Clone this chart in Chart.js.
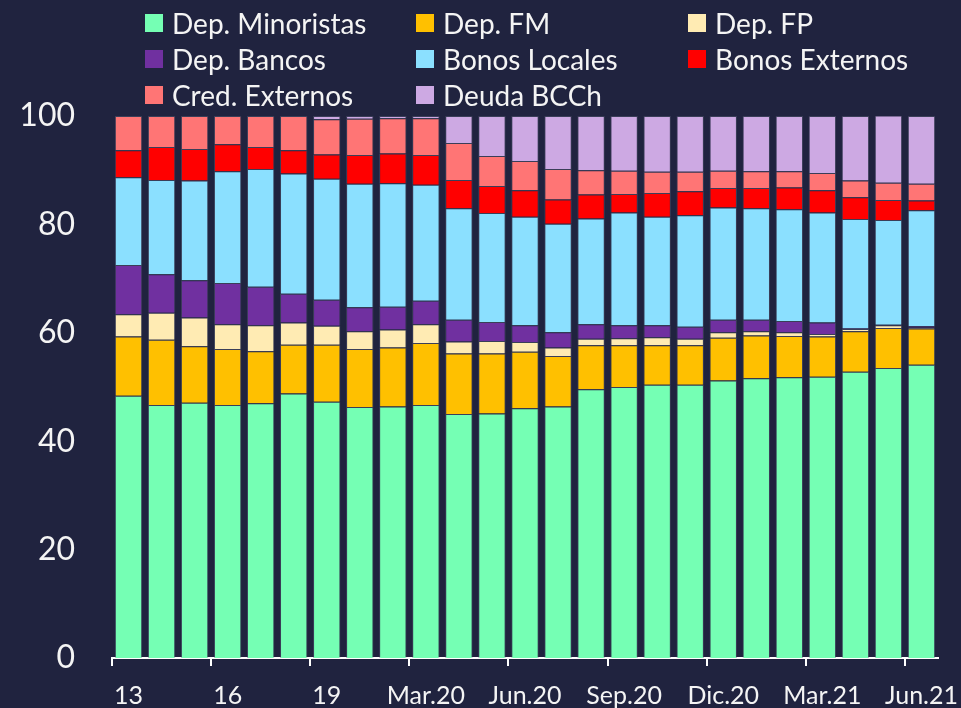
<!DOCTYPE html>
<html>
<head>
<meta charset="utf-8">
<script src="https://cdn.jsdelivr.net/npm/chart.js@4"></script>
<style>
  html, body { margin: 0; padding: 0; background: #20233f; overflow: hidden; }
  #wrap { position: relative; width: 961px; height: 708px; }
  #myChart { display: block; }
  #legend { position: absolute; left: 0; top: 0; width: 961px; height: 112px; }
  .item { position: absolute; display: flex; align-items: center; font-family: Lato, sans-serif;
          font-size: 28px; color: #f4f4f4; white-space: nowrap; height: 30px; }
  .box { width: 18px; height: 18px; margin-right: 9px; }
</style>
</head>
<body>
<div id="wrap">
  <canvas id="myChart" width="961" height="708"></canvas>
  <div id="legend"></div>
</div>
<script>
'use strict'

// Categories: years 2013-2019, then monthly from Jan.20 to Jun.21
const periods = ['13', '14', '15', '16', '17', '18', '19',
  'Ene.20', 'Feb.20', 'Mar.20', 'Abr.20', 'May.20', 'Jun.20', 'Jul.20', 'Ago.20', 'Sep.20',
  'Oct.20', 'Nov.20', 'Dic.20', 'Ene.21', 'Feb.21', 'Mar.21', 'Abr.21', 'May.21', 'Jun.21'];

const yTicks = [0, 20, 40, 60, 80, 100];

// Series values (% of funding)
const depMinoristas = [48.4, 46.7, 47.1, 46.7, 47.0, 48.8, 47.3, 46.3, 46.4, 46.7, 45.0, 45.1, 46.1,
  46.4, 49.6, 50.0, 50.4, 50.4, 51.2, 51.6, 51.8, 51.9, 52.8, 53.5, 54.1];
const depFM = [10.9, 12.0, 10.4, 10.3, 9.6, 9.0, 10.5, 10.7, 10.9, 11.4, 11.2, 11.1, 10.4,
  9.3, 8.1, 7.7, 7.3, 7.3, 7.9, 7.9, 7.6, 7.4, 7.5, 7.4, 6.7];
const depFP = [4.1, 5.0, 5.3, 4.6, 4.8, 4.1, 3.5, 3.3, 3.3, 3.5, 2.2, 2.3, 1.8,
  1.6, 1.2, 1.3, 1.5, 1.2, 1.0, 0.8, 0.7, 0.5, 0.4, 0.5, 0.2];
const depBancos = [9.1, 7.1, 6.9, 7.6, 7.1, 5.3, 4.8, 4.4, 4.2, 4.3, 4.0, 3.5, 3.1,
  2.8, 2.7, 2.4, 2.2, 2.2, 2.3, 2.1, 2.1, 2.1, 0.1, 0.1, 0.2];
const bonosLocales = [16.2, 17.4, 18.4, 20.6, 21.7, 22.2, 22.3, 22.8, 22.8, 21.4, 20.6, 20.1, 20.0,
  20.0, 19.5, 20.8, 20.0, 20.6, 20.7, 20.6, 20.6, 20.3, 20.2, 19.3, 21.4];
const bonosExternos = [5.0, 6.1, 5.8, 5.0, 4.1, 4.3, 4.5, 5.3, 5.5, 5.5, 5.2, 5.0, 4.9,
  4.5, 4.4, 3.4, 4.4, 4.4, 3.6, 3.7, 4.0, 4.1, 4.0, 3.7, 1.8];
const credExternos = [6.3, 5.7, 6.1, 5.2, 5.7, 6.3, 6.5, 6.7, 6.5, 6.8, 6.8, 5.5, 5.4,
  5.6, 4.5, 4.3, 3.9, 3.6, 3.2, 3.1, 3.0, 3.2, 3.1, 3.2, 3.1];
const deudaBCCh = [0, 0, 0, 0, 0, 0, 0.6, 0.5, 0.4, 0.4, 5.0, 7.4, 8.3,
  9.8, 10.0, 10.1, 10.3, 10.3, 10.1, 10.2, 10.2, 10.5, 11.9, 12.4, 12.5];

const seriesNames = ['Dep. Minoristas', 'Dep. FM', 'Dep. FP', 'Dep. Bancos',
  'Bonos Locales', 'Bonos Externos', 'Cred. Externos', 'Deuda BCCh'];
const seriesData = [depMinoristas, depFM, depFP, depBancos, bonosLocales, bonosExternos, credExternos, deudaBCCh];
const seriesColors = ['#75ffb4', '#ffc000', '#ffebb3', '#7030a0', '#8be0ff', '#ff0000', '#ff7575', '#cda9e3'];

const textColor = '#f4f4f4';

// legend, 3 columns like the original
const legendCols = [145, 416, 688];
const legendRows = [8, 44, 80];
const legendBox = document.getElementById('legend');
for (let i = 0; i < seriesNames.length; i++) {
  let item = document.createElement('div');
  item.className = 'item';
  item.style.left = legendCols[i % 3] + 'px';
  item.style.top = legendRows[Math.floor(i / 3)] + 'px';
  let box = document.createElement('span');
  box.className = 'box';
  box.style.background = seriesColors[i];
  let label = document.createElement('span');
  label.textContent = seriesNames[i];
  item.appendChild(box);
  item.appendChild(label);
  legendBox.appendChild(item);
}

let datasets = [];
for (let i = 0; i < seriesNames.length; i++) {
  datasets.push({
    label: seriesNames[i],
    data: seriesData[i],
    backgroundColor: seriesColors[i],
    borderColor: 'rgba(90,95,120,0.45)',
    borderWidth: 1,
    categoryPercentage: 1,
    barPercentage: 0.83
  });
}

// no extra padding for overflowing tick labels, the layout below is fixed
function noScalePadding(scale) {
  scale.paddingLeft = 0;
  scale.paddingRight = 0;
  scale.paddingTop = 0;
  scale.paddingBottom = 0;
}

const config = {
  type: 'bar',
  data: {
    labels: periods,
    datasets: datasets
  },
  options: {
    responsive: false,
    animation: false,
    layout: {
      padding: { top: 116, right: 23, left: 0, bottom: 0 }
    },
    plugins: {
      legend: { display: false },
      tooltip: { enabled: false }
    },
    scales: {
      x: {
        stacked: true,
        afterFit: function (scale) {
          scale.height = 50;
          noScalePadding(scale);
        },
        grid: {
          display: true,
          drawOnChartArea: false,
          drawTicks: true,
          tickLength: 8,
          lineWidth: 2,
          color: (ctx) => ctx.index % 3 === 0 ? '#ffffff' : 'rgba(0,0,0,0)'
        },
        border: { display: true, color: '#ffffff', width: 2 },
        ticks: {
          autoSkip: false,
          maxRotation: 0,
          padding: 15,
          color: textColor,
          font: { family: 'Lato', size: 25 },
          callback: function (value, index) {
            return index % 3 === 0 ? periods[index] : '';
          }
        }
      },
      y: {
        stacked: true,
        min: 0,
        max: 100,
        afterFit: function (scale) {
          scale.width = 112;
          noScalePadding(scale);
        },
        afterBuildTicks: function (scale) {
          scale.ticks = yTicks.map(v => ({ value: v }));
        },
        grid: { display: false, drawTicks: false },
        border: { display: false },
        ticks: {
          padding: 37,
          color: textColor,
          font: { family: 'Lato', size: 32 }
        }
      }
    }
  }
};

let canvasChart = document.getElementById('myChart');
const myChart = new Chart(canvasChart, config);
</script>
</body>
</html>
